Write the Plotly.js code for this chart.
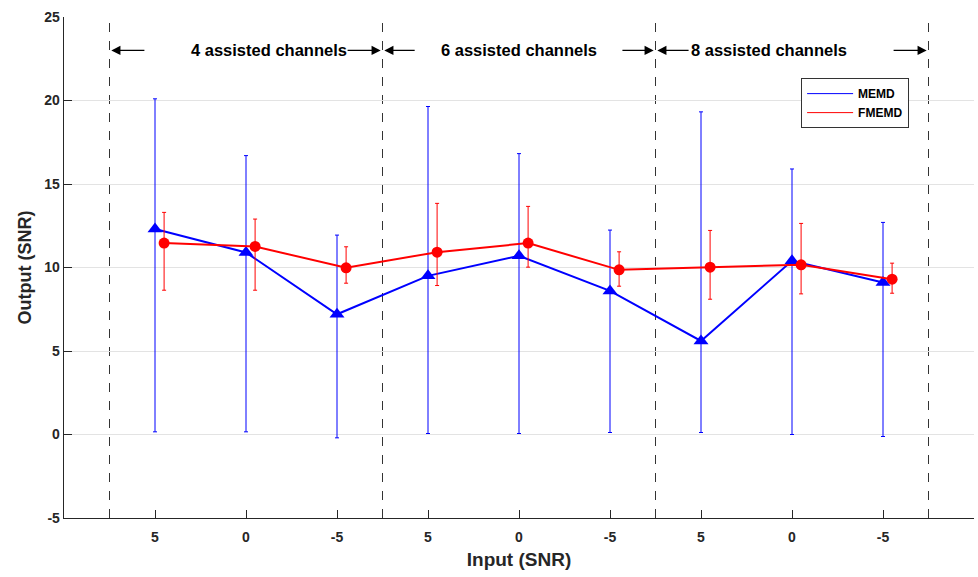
<!DOCTYPE html>
<html>
<head>
<meta charset="utf-8">
<script src="https://cdn.plot.ly/plotly-3.0.1.min.js"></script>
<style>html,body{margin:0;padding:0;background:#fff;}#chart{width:978px;height:577px;}</style>
</head>
<body>
<div id="chart"></div>
<script>
// ---- data ----
const groupLabels = ['4 assisted channels', '6 assisted channels', '8 assisted channels'];
const inputSNR = ['5', '0', '-5'];
const yTickVals = [-5, 0, 5, 10, 15, 20, 25];
const yTickText = ['-5', '0', '5', '10', '15', '20', '25'];

const memdMean  = [12.3, 10.9, 7.2, 9.5, 10.7, 8.6, 5.6, 10.4, 9.1];
const memdUpper = [20.1, 16.7, 11.94, 19.64, 16.82, 12.24, 19.32, 15.9, 12.7];
const memdLower = [0.16, 0.16, -0.2, 0.06, 0.06, 0.12, 0.12, 0.0, -0.12];

const fmemdMean  = [11.46, 11.26, 9.98, 10.92, 11.46, 9.86, 10.02, 10.16, 9.3];
const fmemdUpper = [13.3, 12.9, 11.24, 13.84, 13.66, 10.94, 12.22, 12.64, 10.26];
const fmemdLower = [8.64, 8.64, 9.06, 8.92, 10.02, 8.88, 8.1, 8.42, 8.46];

// ---- derived ----
const nPer = inputSNR.length;
const xs = [], ticktext = [];
groupLabels.forEach((g, gi) => inputSNR.forEach((s, si) => { xs.push(gi * nPer + si + 1); ticktext.push(s); }));
const xsF = xs.map(v => v + 0.1);
const boundaries = [];
for (let g = 0; g <= groupLabels.length; g++) boundaries.push(g * nPer + 0.5);

const fontFam = '"Liberation Sans", Arial, Helvetica, sans-serif';
const dark = '#262626';
const blue = '#0000ff';
const red = '#ff0000';

const memd = {
  x: xs, y: memdMean, type: 'scatter', mode: 'lines+markers', name: 'MEMD', showlegend: false,
  line: {color: blue, width: 2},
  marker: {symbol: 'triangle-up', size: 13, color: blue},
  error_y: {type: 'data', symmetric: false,
    array: memdUpper.map((u, i) => u - memdMean[i]),
    arrayminus: memdMean.map((m, i) => m - memdLower[i]),
    color: blue, thickness: 1, width: 2}
};
const fmemd = {
  x: xsF, y: fmemdMean, type: 'scatter', mode: 'lines+markers', name: 'FMEMD', showlegend: false,
  line: {color: red, width: 2},
  marker: {symbol: 'circle', size: 11, color: red},
  error_y: {type: 'data', symmetric: false,
    array: fmemdUpper.map((u, i) => u - fmemdMean[i]),
    arrayminus: fmemdMean.map((m, i) => m - fmemdLower[i]),
    color: red, thickness: 1, width: 2}
};
const legMemd = {x: [null], y: [null], type: 'scatter', mode: 'lines', name: 'MEMD', line: {color: blue, width: 1}};
const legFmemd = {x: [null], y: [null], type: 'scatter', mode: 'lines', name: 'FMEMD', line: {color: red, width: 1}};

const shapes = boundaries.map(b => ({
  type: 'line', xref: 'x', yref: 'paper', x0: b, x1: b, y0: 0, y1: 1, layer: 'below',
  line: {color: '#333333', width: 1, dash: 'dash'}
}));

// label placement (layout)
const textX = [2.25, 5.0, 7.75];
const arrowY = 23;
const annotations = [];
groupLabels.forEach((g, gi) => {
  annotations.push({x: textX[gi], y: arrowY, xref: 'x', yref: 'y', text: g, showarrow: false,
    font: {family: fontFam, size: 16.5, color: '#000', weight: 'bold'}});
  const left = boundaries[gi], right = boundaries[gi + 1];
  const leftTail = [0.9, 3.87, 6.88][gi];
  const rightTail = [3.1, 6.12, 9.1][gi];
  annotations.push({x: left + 0.02, y: arrowY, ax: leftTail, ay: arrowY, xref: 'x', yref: 'y', axref: 'x', ayref: 'y',
    text: '', showarrow: true, arrowhead: 2, arrowsize: 1.4, arrowwidth: 1.3, arrowcolor: '#000'});
  annotations.push({x: right - 0.02, y: arrowY, ax: rightTail, ay: arrowY, xref: 'x', yref: 'y', axref: 'x', ayref: 'y',
    text: '', showarrow: true, arrowhead: 2, arrowsize: 1.4, arrowwidth: 1.3, arrowcolor: '#000'});
});

const layout = {
  width: 978, height: 577,
  margin: {l: 64, r: 4, t: 17, b: 59},
  paper_bgcolor: '#fff', plot_bgcolor: '#fff',
  font: {family: fontFam, color: dark},
  showlegend: true,
  legend: {x: 0.81, y: 0.878, xanchor: 'left', yanchor: 'top', bgcolor: '#fff',
    bordercolor: '#333', borderwidth: 1, itemwidth: 46,
    font: {family: fontFam, size: 12, color: '#000', weight: 'bold'},
    tracegroupgap: 0},
  xaxis: {range: [0, 10], tickmode: 'array', tickvals: xs, ticktext: ticktext,
    ticks: 'inside', ticklen: 8, tickcolor: dark, showgrid: false, zeroline: false,
    showline: true, linecolor: dark, linewidth: 1.3, mirror: false, ticklabelstandoff: 6,
    tickfont: {family: fontFam, size: 14, color: dark, weight: 'bold'},
    title: {text: 'Input (SNR)', font: {family: fontFam, size: 19, color: dark, weight: 'bold'}, standoff: 8}},
  yaxis: {range: [-5, 25], tickmode: 'array', tickvals: yTickVals, ticktext: yTickText,
    ticks: 'inside', ticklen: 8, tickcolor: dark,
    showgrid: true, gridcolor: '#e3e3e3', gridwidth: 1, zeroline: false,
    showline: true, linecolor: dark, linewidth: 1.3, mirror: false,
    tickfont: {family: fontFam, size: 14, color: dark, weight: 'bold'},
    title: {text: 'Output (SNR)', font: {family: fontFam, size: 18, color: dark, weight: 'bold'}, standoff: 8}},
  shapes: shapes,
  annotations: annotations
};

Plotly.newPlot('chart', [memd, fmemd, legMemd, legFmemd], layout, {displayModeBar: false, staticPlot: true});
</script>
</body>
</html>
